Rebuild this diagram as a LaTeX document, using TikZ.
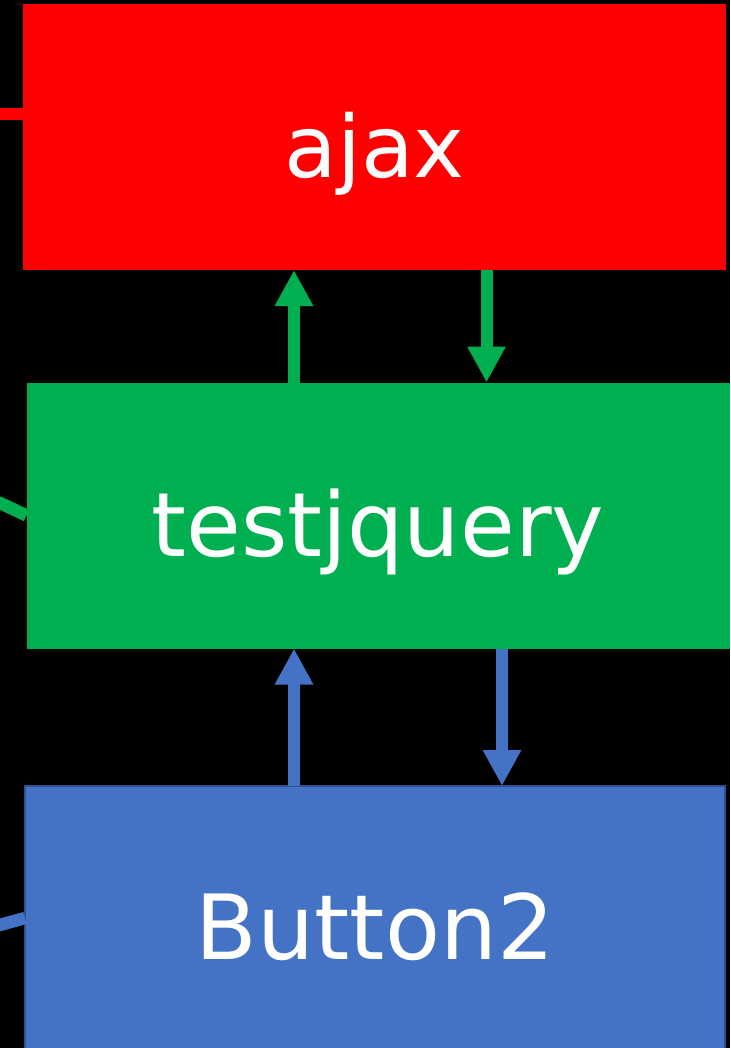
\documentclass[tikz,border=0pt]{standalone}
\usepackage{fontspec}
\setmainfont{DejaVu Sans}
\usetikzlibrary{arrows.meta}
\definecolor{pptred}{HTML}{FF0000}
\definecolor{pptgreen}{HTML}{00B050}
\definecolor{pptblue}{HTML}{4472C4}
\definecolor{pptbluedark}{HTML}{2F528F}
\begin{document}
\begin{tikzpicture}[x=1pt,y=-1pt,
  box/.style={rectangle, minimum width=703pt, minimum height=266pt, inner sep=0pt, outer sep=0pt,
    text=white, font=\fontsize{86}{86}\selectfont, text depth=0pt},
  arr/.style={line width=12pt, -{Triangle[width=36pt,length=36pt]}},
  lnk/.style={line width=12.5pt}]
\fill[black] (0,0) rectangle (730,1048);
\useasboundingbox (0,0) rectangle (730,1048);

\node[box, fill=pptred, text height=82pt] (ajax) at (374.5,137){ajax};
\node[box, fill=pptgreen, text height=81pt, font=\fontsize{89}{89}\selectfont] (tq) at (378,515.5){testjquery};
\node[box, fill=pptblue, draw=pptbluedark, line width=2pt, minimum width=700pt, minimum height=264pt,
  text height=82pt, font=\fontsize{90}{90}\selectfont] (btn) at (375,918){Button2};

\draw[arr, pptgreen] (294,0 |- tq.north) -- (294,0 |- ajax.south);
\draw[arr, pptgreen] (486.5,0 |- ajax.south) -- (486.5,0 |- tq.north);
\draw[arr, pptblue] (294,0 |- btn.north) -- (294,0 |- tq.south);
\draw[arr, pptblue] (502,0 |- tq.south) -- (502,0 |- btn.north);

\coordinate (ajaxin) at (0,114);
\coordinate (tqin) at (-2,502);
\coordinate (btnin) at (-2,925.5);
\draw[lnk, pptred] (ajaxin) -- (ajaxin -| ajax.west);
\draw[lnk, pptgreen] (tqin) -- (tq.west);
\draw[lnk, pptblue] (btnin) -- (btn.west);

\end{tikzpicture}
\end{document}
